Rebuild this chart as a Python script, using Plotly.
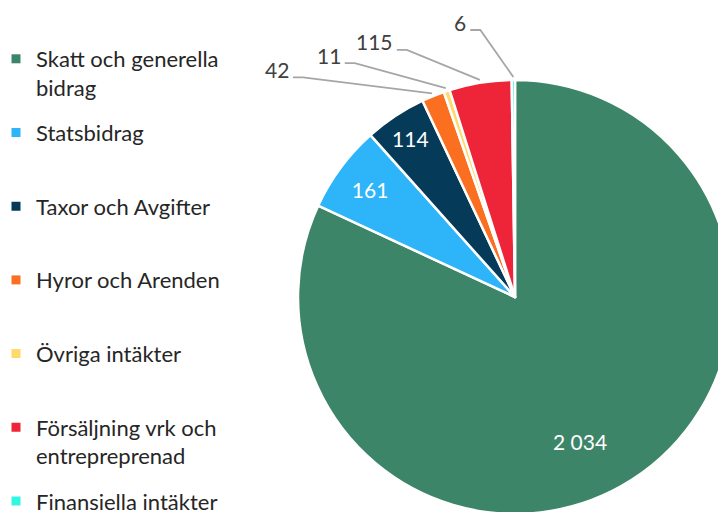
import math
import plotly.graph_objects as go

# ---- data ----
categories = [
    "Skatt och generella<br>bidrag",
    "Statsbidrag",
    "Taxor och Avgifter",
    "Hyror och Arenden",
    "Övriga intäkter",
    "Försäljning vrk och<br>entrepreprenad",
    "Finansiella intäkter",
]
values = [2034, 161, 114, 42, 11, 115, 6]
colors = ["#3D8569", "#2EB4F8", "#063A59", "#FB6F20", "#FFDA6A", "#EE2539", "#33F5E3"]
label_mode = ["moved", "inside", "inside", "outside", "outside", "outside", "outside"]

# ---- layout / style ----
W, H = 740, 530
PIE_LEFT, PIE_RIGHT, PIE_TOP, PIE_BOTTOM = 298, 732, 80, 514
CX, CY = (PIE_LEFT + PIE_RIGHT) / 2, (PIE_TOP + PIE_BOTTOM) / 2
R = (PIE_RIGHT - PIE_LEFT) / 2
# elbow offsets (px) of the dragged outside labels, relative to slice edge
label_offsets = {3: (-129, -16), 4: (-91, -25), 5: (-73, -30), 6: (-33, -47)}
# dragged inside label: (radius fraction, extra angle in degrees)
moved_inside = {0: (0.73, 8.5)}
LEGEND_TOP0, LEGEND_STEP = 38, 73.7
LABEL_FONT = "Lato"


def px(x):
    return x / W


def py(y):
    return 1 - y / H


def fmt(v):
    return f"{v:,}".replace(",", " ")


fig = go.Figure()

fig.add_trace(
    go.Pie(
        labels=[c.replace("<br>", " ") for c in categories],
        values=values,
        sort=False,
        direction="clockwise",
        rotation=0,
        marker=dict(colors=colors, line=dict(color="white", width=2.5)),
        textposition=["inside" if m == "inside" else "none" for m in label_mode],
        texttemplate="%{value:,.0f}",
        insidetextorientation="horizontal",
        insidetextfont=dict(color="white", size=21, family=LABEL_FONT),
        hoverinfo="label+value+percent",
        showlegend=False,
        domain=dict(x=[px(PIE_LEFT), px(PIE_RIGHT)], y=[py(PIE_BOTTOM), py(PIE_TOP)]),
    )
)

# data labels positioned from the slice angles
total = sum(values)
cum = 0
for i, v in enumerate(values):
    mid = (cum + v / 2) / total * 2 * math.pi
    cum += v
    mode = label_mode[i]
    if mode == "inside":
        continue
    if mode == "moved":
        rf, dang = moved_inside[i]
        a = mid + math.radians(dang)
        fig.add_annotation(
            x=px(CX + rf * R * math.sin(a)),
            y=py(CY - rf * R * math.cos(a)),
            xref="paper",
            yref="paper",
            xanchor="center",
            yanchor="middle",
            text=fmt(v),
            showarrow=False,
            font=dict(family=LABEL_FONT, size=21, color="white"),
        )
        continue
    ex = CX + (R + 3) * math.sin(mid)
    ey = CY - (R + 3) * math.cos(mid)
    ox, oy = label_offsets[i]
    bx, by = ex + ox, ey + oy
    sx = bx - 10
    fig.add_shape(
        type="path",
        xref="paper",
        yref="paper",
        path=f"M {px(sx)},{py(by)} L {px(bx)},{py(by)} L {px(ex)},{py(ey)}",
        line=dict(color="#A6A6A6", width=1.8),
    )
    fig.add_annotation(
        x=px(sx - 2),
        y=py(by),
        xref="paper",
        yref="paper",
        xanchor="right",
        yanchor="middle",
        yshift=8,
        text=fmt(v),
        showarrow=False,
        font=dict(family=LABEL_FONT, size=21, color="#404040"),
    )

# legend: one entry per legend so the entries keep Excel's even spacing
layout_legends = {}
for i, (name, col) in enumerate(zip(categories, colors)):
    key = "legend" if i == 0 else f"legend{i + 1}"
    fig.add_trace(
        go.Scatter(
            x=[None],
            y=[None],
            mode="markers",
            name=name,
            marker=dict(symbol="square", size=9, color=col),
            legend=key,
            hoverinfo="skip",
        )
    )
    layout_legends[key] = dict(
        x=0,
        y=py(LEGEND_TOP0 + LEGEND_STEP * i),
        xanchor="left",
        yanchor="top",
        valign="top",
        indentation=-4,
        font=dict(family=LABEL_FONT, size=22, color="#262626"),
        bgcolor="rgba(0,0,0,0)",
    )

fig.update_layout(
    width=W,
    height=H,
    margin=dict(l=0, r=0, t=0, b=0),
    paper_bgcolor="white",
    plot_bgcolor="white",
    separators=", ",
    showlegend=True,
    xaxis=dict(visible=False),
    yaxis=dict(visible=False),
    **layout_legends,
)

fig.write_html(
    "out.html",
    config={"displayModeBar": False},
    post_script="document.body.style.margin='0';document.body.style.overflow='hidden';",
)
